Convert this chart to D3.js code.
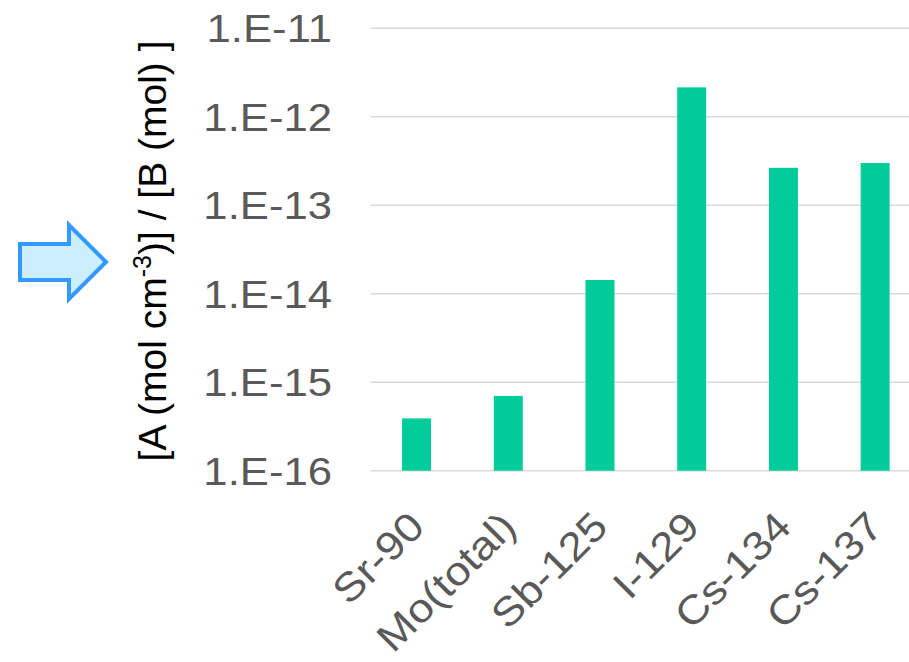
<!DOCTYPE html>
<html>
<head>
<meta charset="utf-8">
<script src="https://cdn.jsdelivr.net/npm/d3@7"></script>
<style>
  html, body { margin: 0; padding: 0; background: #fff; }
  svg { display: block; }
  text { font-family: Arial, "Liberation Sans", sans-serif; }
</style>
</head>
<body>
<svg id="chart" width="909" height="662"></svg>
<script>
const categories = ["Sr-90", "Mo(total)", "Sb-125", "I-129", "Cs-134", "Cs-137"];
const values = [3.9e-16, 7.0e-16, 1.43e-14, 2.15e-12, 2.65e-13, 3.0e-13];
const tickValues = [1e-16, 1e-15, 1e-14, 1e-13, 1e-12, 1e-11];
const tickLabels = ["1.E-16", "1.E-15", "1.E-14", "1.E-13", "1.E-12", "1.E-11"];

(function () {
const svg = d3.select("#chart");
const plotLeft = 370.7, plotRight = 921, plotTop = 28.3, plotBottom = 470.7;
const sx = 1.12; // glyphs of the original are a little wider than Arial

const x = d3.scaleBand().domain(categories).range([plotLeft, plotRight])
  .paddingInner(0.684).paddingOuter(0.342);
const y = d3.scaleLog().domain([1e-16, 1e-11]).range([plotBottom, plotTop]);

// gridlines
svg.append("g").selectAll("line").data(tickValues).join("line")
  .attr("x1", plotLeft).attr("x2", 909)
  .attr("y1", d => y(d)).attr("y2", d => y(d))
  .attr("stroke", "#d9d9d9").attr("stroke-width", 1.6);

// y tick labels
svg.append("g").selectAll("text").data(tickValues).join("text")
  .attr("transform", d => `translate(332,${y(d)}) scale(${sx},1)`)
  .attr("dy", "0.355em")
  .attr("text-anchor", "end").attr("fill", "#595959")
  .attr("font-size", 39)
  .text((d, i) => tickLabels[i]);

// bars
svg.append("g").selectAll("rect").data(values).join("rect")
  .attr("x", (d, i) => x(categories[i]))
  .attr("width", x.bandwidth())
  .attr("y", d => y(d))
  .attr("height", d => plotBottom - y(d))
  .attr("fill", "#00cc99");

// x labels
svg.append("g").selectAll("text").data(categories).join("text")
  .attr("transform", d => `translate(${x(d) + x.bandwidth() / 2 + 10},529) rotate(-45) scale(${sx},1)`)
  .attr("text-anchor", "end").attr("fill", "#595959")
  .attr("font-size", 40)
  .text(d => d);

// y axis title
const title = svg.append("text")
  .attr("transform", `translate(166,251) rotate(-90)`)
  .attr("text-anchor", "middle").attr("fill", "#000")
  .attr("font-size", 39);
title.append("tspan").text("[A (mol cm");
title.append("tspan").text("-3").attr("font-size", 25).attr("dy", -15);
title.append("tspan").text(")] / [B (mol) ]").attr("dy", 15);

// arrow
const arrowPts = [[20, 244], [69, 244], [69, 225], [106, 262], [69, 299], [69, 280], [20, 280]];
svg.append("path")
  .attr("d", d3.line()(arrowPts) + "Z")
  .attr("fill", "#cceeff").attr("stroke", "#3399ff").attr("stroke-width", 4)
  .attr("stroke-linejoin", "miter");
})();
</script>
</body>
</html>
